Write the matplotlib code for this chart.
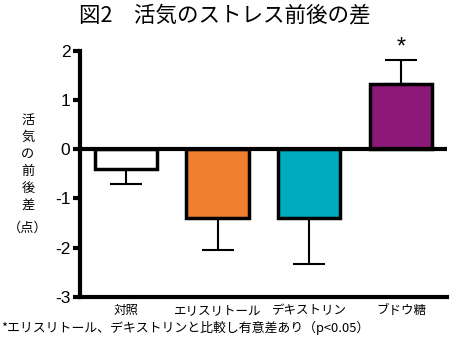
import matplotlib.pyplot as plt

plt.rcParams['font.family'] = ['Liberation Sans', 'Noto Sans CJK JP', 'DejaVu Sans']

categories = ['対照', 'エリスリトール', 'デキストリン', 'ブドウ糖']
means = [-0.4, -1.4, -1.4, 1.32]
errors = [0.3, 0.65, 0.93, 0.5]
colors = ['white', '#F07F2E', '#00AABF', '#8C1878']

fig = plt.figure(figsize=(4.5, 3.4), dpi=100)
ax = fig.add_axes([0.178, 0.127, 0.815, 0.723])

x = range(len(categories))
# error bars only in the direction away from zero
lower = [e if m < 0 else 0 for m, e in zip(means, errors)]
upper = [e if m >= 0 else 0 for m, e in zip(means, errors)]
ax.errorbar(x, means, yerr=[lower, upper], fmt='none', ecolor='black',
            elinewidth=1.5, capsize=11.5, capthick=1.5, zorder=1)
ax.bar(x, means, width=0.68, color=colors, edgecolor='black', linewidth=2.5, zorder=2)
ax.axhline(0, color='black', lw=3, zorder=3)

ax.text(3, means[3] + errors[3] + 0.03, '*', ha='center', va='bottom', fontsize=17)

ax.set_xlim(-0.5, 3.5)
ax.set_ylim(-3, 2)
ax.set_yticks([-3, -2, -1, 0, 1, 2])
ax.set_yticklabels(['-3', '-2', '-1', '0', '1', '2'], fontsize=12.5)
ax.tick_params(axis='y', length=5, width=3, pad=2)
ax.set_xticks(list(x))
ax.set_xticklabels(categories, fontsize=9)
ax.tick_params(axis='x', length=0, pad=6)

for s in ['top', 'right']:
    ax.spines[s].set_visible(False)
ax.spines['left'].set_linewidth(3)
ax.spines['bottom'].set_linewidth(3)

fig.text(0.5, 0.955, '図2\u3000活気のストレス前後の差', ha='center', va='center', fontsize=15.5,
         family=['Noto Sans CJK JP'])
fig.text(0.062, 0.52, '活\n気\nの\n前\n後\n差', ha='center', va='center', fontsize=9.5,
         linespacing=1.4, family=['Noto Sans CJK JP'])
fig.text(0.062, 0.33, '（点）', ha='center', va='center', fontsize=9.5, family=['Noto Sans CJK JP'])
fig.text(0.003, 0.035, '*エリスリトール、デキストリンと比較し有意差あり（p<0.05）', ha='left', va='center',
         fontsize=9.3, family=['Noto Sans CJK JP', 'Liberation Sans'])

fig.savefig('out.png', dpi=100)
